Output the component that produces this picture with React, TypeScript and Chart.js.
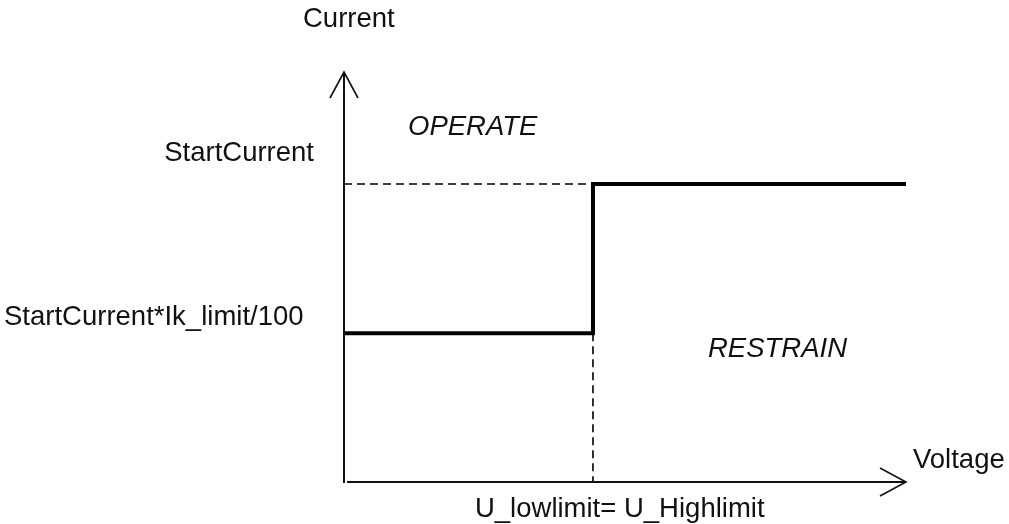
import React, { useEffect, useRef } from "react";
import { Chart, registerables } from "chart.js";

Chart.register(...registerables);

// ---- data (abstract units, 0..100 on both axes) ----
const axisRangeX = [0, 100];
const axisRangeY = [0, 100];
const limitVoltage = [44.3]; // U_lowlimit = U_Highlimit
const currentLevels = [72.7, 36.3]; // StartCurrent, StartCurrent*Ik_limit/100
const characteristicX = [0, 44.3, 44.3, 100];
const characteristicY = [36.3, 36.3, 72.7, 72.7];
const yTickLabels = ["StartCurrent", "StartCurrent*Ik_limit/100"];
const xTickLabels = ["U_lowlimit= U_Highlimit"];
const axisTitles = ["Voltage", "Current"];
const regionLabels = ["OPERATE", "RESTRAIN"];

const FONT = '"Liberation Sans", Arial, sans-serif';

const diagramPlugin = {
  id: "diagramDecor",
  afterDatasetsDraw(chart: any) {
    const ctx = chart.ctx as CanvasRenderingContext2D;
    const xs = chart.scales.x;
    const ys = chart.scales.y;
    const x0 = xs.getPixelForValue(axisRangeX[0]);
    const x1 = xs.getPixelForValue(axisRangeX[1]);
    const y0 = ys.getPixelForValue(axisRangeY[0]);
    const y1 = ys.getPixelForValue(axisRangeY[1]);
    ctx.save();
    ctx.strokeStyle = "#111";
    ctx.lineCap = "butt";
    // y axis
    ctx.lineWidth = 2;
    ctx.beginPath();
    ctx.moveTo(x0, y0 + 1);
    ctx.lineTo(x0, y1);
    ctx.stroke();
    // x axis
    ctx.beginPath();
    ctx.moveTo(x0 + 3, y0);
    ctx.lineTo(x1, y0);
    ctx.stroke();
    // arrow heads
    ctx.lineWidth = 1.6;
    ctx.beginPath();
    ctx.moveTo(x0 - 14, y1 + 26);
    ctx.lineTo(x0, y1);
    ctx.lineTo(x0 + 14, y1 + 26);
    ctx.stroke();
    ctx.beginPath();
    ctx.moveTo(x1 - 26, y0 - 14);
    ctx.lineTo(x1, y0);
    ctx.lineTo(x1 - 26, y0 + 14);
    ctx.stroke();

    // texts
    ctx.fillStyle = "#111";
    ctx.textBaseline = "alphabetic";
    ctx.font = `27.5px ${FONT}`;
    // axis titles
    ctx.textAlign = "left";
    ctx.fillText(axisTitles[1], x0 - 41, y1 - 45);
    ctx.fillText(axisTitles[0], x1 + 7, y0 - 14);
    // y tick labels
    ctx.textAlign = "right";
    ctx.fillText(yTickLabels[0], x0 - 30, ys.getPixelForValue(currentLevels[0]) - 23);
    ctx.textAlign = "left";
    ctx.fillText(yTickLabels[1], 4, ys.getPixelForValue(currentLevels[1]) - 8);
    // x tick label
    ctx.fillText(xTickLabels[0], xs.getPixelForValue(limitVoltage[0]) - 118, y0 + 35);
    // region labels
    ctx.font = `italic 27.5px ${FONT}`;
    ctx.fillText(regionLabels[0], x0 + 64, y1 + 63);
    ctx.fillText(regionLabels[1], x0 + 364, y0 - 125);
    ctx.restore();
  },
};

export default function App() {
  const ref = useRef<HTMLCanvasElement | null>(null);
  useEffect(() => {
    if (!ref.current) return;
    const lx = limitVoltage[0];
    const chart = new Chart(ref.current, {
      type: "line",
      data: {
        datasets: [
          {
            data: characteristicX.map((x, i) => ({ x, y: characteristicY[i] })),
            borderColor: "#000",
            borderWidth: 4,
            pointRadius: 0,
            tension: 0,
            fill: false,
            clip: false as any,
            borderJoinStyle: "miter",
            borderCapStyle: "butt",
          },
          {
            data: [
              { x: axisRangeX[0], y: currentLevels[0] },
              { x: lx, y: currentLevels[0] },
            ],
            borderColor: "#000",
            borderWidth: 1.6,
            borderDash: [8, 5],
            pointRadius: 0,
            fill: false,
            clip: false as any,
          },
          {
            data: [
              { x: lx, y: currentLevels[1] },
              { x: lx, y: axisRangeY[0] },
            ],
            borderColor: "#000",
            borderWidth: 1.6,
            borderDash: [8, 5],
            pointRadius: 0,
            fill: false,
            clip: false as any,
          },
        ],
      },
      options: {
        responsive: false,
        animation: false,
        devicePixelRatio: 1,
        layout: { padding: { left: 344, right: 103, top: 72, bottom: 42 } },
        plugins: { legend: { display: false }, tooltip: { enabled: false }, title: { display: false } },
        scales: {
          x: { type: "linear", min: axisRangeX[0], max: axisRangeX[1], display: false },
          y: { type: "linear", min: axisRangeY[0], max: axisRangeY[1], display: false },
        },
      },
      plugins: [diagramPlugin],
    });
    return () => chart.destroy();
  }, []);
  return (
    <div style={{ position: "fixed", left: 0, top: 0, width: 1009, height: 524, background: "#fff" }}>
      <canvas ref={ref} width={1009} height={524} />
    </div>
  );
}
